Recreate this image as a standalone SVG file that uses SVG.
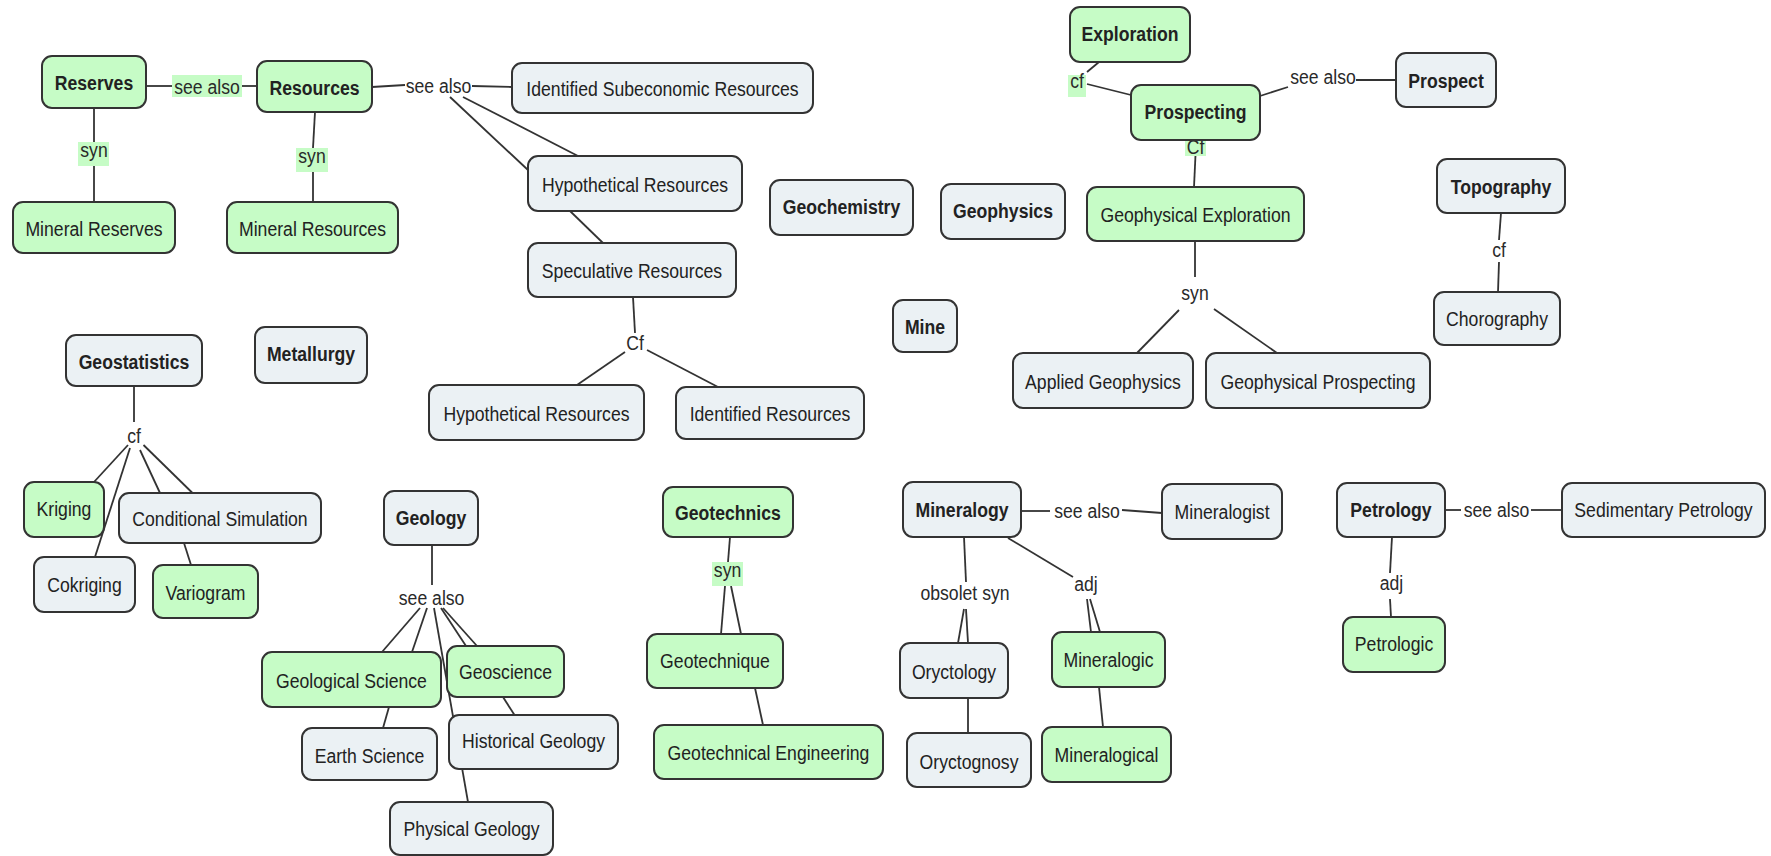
<svg xmlns="http://www.w3.org/2000/svg" width="1771" height="856" viewBox="0 0 1771 856">
  <style>
    .n rect { stroke: #333; stroke-width: 2; }
    .g rect { fill: #c6fcc6; }
    .b rect { fill: #ebf1f4; }
    text { font-family: "Liberation Sans", Arial, sans-serif; font-size: 21px; fill: #222; text-anchor: middle;
           transform-box: fill-box; transform-origin: center; transform: scaleX(0.84); }
    .bold text, text.bold { font-weight: bold; }
    .lab text { fill: #2a2a2a; }
    .lbg { fill: #c6fcc6; }
    #connectors line { stroke: #333; stroke-width: 1.8; }
  </style>

  <!-- connectors -->
  <g id="connectors">
    <line x1="146" y1="86" x2="172" y2="86"/>
    <line x1="242" y1="86" x2="257" y2="86"/>
    <line x1="94" y1="108" x2="94" y2="142"/>
    <line x1="94" y1="166" x2="94" y2="202"/>
    <line x1="315" y1="112" x2="313" y2="148"/>
    <line x1="313" y1="172" x2="313" y2="202"/>
    <line x1="372" y1="87" x2="405" y2="85"/>
    <line x1="472" y1="86" x2="512" y2="87"/>
    <line x1="450" y1="97" x2="528" y2="170"/>
    <line x1="463" y1="97" x2="578" y2="156"/>
    <line x1="570" y1="211" x2="603" y2="243"/>
    <line x1="633" y1="297" x2="635" y2="333"/>
    <line x1="625" y1="352" x2="577" y2="385"/>
    <line x1="647" y1="350" x2="718" y2="387"/>
    <line x1="1099" y1="62" x2="1087" y2="72"/>
    <line x1="1087" y1="84" x2="1131" y2="95"/>
    <line x1="1260" y1="96" x2="1288" y2="87"/>
    <line x1="1356" y1="80" x2="1396" y2="80"/>
    <line x1="1195.5" y1="155" x2="1194" y2="187"/>
    <line x1="1195" y1="241" x2="1195" y2="277"/>
    <line x1="1179" y1="310" x2="1137" y2="353"/>
    <line x1="1214" y1="309" x2="1277" y2="353"/>
    <line x1="1501" y1="213" x2="1499" y2="240"/>
    <line x1="1499" y1="262" x2="1498" y2="292"/>
    <line x1="134" y1="386" x2="134" y2="422"/>
    <line x1="128" y1="445" x2="94" y2="482"/>
    <line x1="130" y1="448" x2="95" y2="557"/>
    <line x1="140" y1="450" x2="160" y2="493"/>
    <line x1="143.5" y1="445" x2="192.5" y2="493"/>
    <line x1="184" y1="543" x2="191" y2="565"/>
    <line x1="432" y1="545" x2="432" y2="585"/>
    <line x1="420" y1="608" x2="382" y2="652"/>
    <line x1="427" y1="608" x2="412" y2="652"/>
    <line x1="434" y1="608" x2="468" y2="802"/>
    <line x1="441" y1="608" x2="466" y2="646"/>
    <line x1="443" y1="608" x2="477" y2="646"/>
    <line x1="389" y1="707" x2="383" y2="728"/>
    <line x1="503" y1="697" x2="514.5" y2="715"/>
    <line x1="730" y1="537" x2="728" y2="562"/>
    <line x1="725" y1="586" x2="721" y2="634"/>
    <line x1="731" y1="586" x2="741" y2="634"/>
    <line x1="755" y1="688" x2="763" y2="725"/>
    <line x1="1021" y1="511" x2="1050" y2="511"/>
    <line x1="1122" y1="510" x2="1162" y2="513"/>
    <line x1="964" y1="537" x2="966" y2="582"/>
    <line x1="964" y1="609" x2="958" y2="643"/>
    <line x1="966" y1="609" x2="968" y2="643"/>
    <line x1="968" y1="698" x2="968" y2="733"/>
    <line x1="1008" y1="538" x2="1073" y2="577"/>
    <line x1="1087" y1="599" x2="1091" y2="632"/>
    <line x1="1090" y1="599" x2="1100" y2="632"/>
    <line x1="1099" y1="687" x2="1103" y2="727"/>
    <line x1="1445" y1="510" x2="1461" y2="510"/>
    <line x1="1531" y1="510" x2="1562" y2="510"/>
    <line x1="1392" y1="537" x2="1390" y2="573"/>
    <line x1="1390" y1="599" x2="1391" y2="617"/>
  </g>

  <!-- link labels -->
  <g id="labels" class="lab">
    <rect class="lbg" x="172" y="75" width="70" height="22"/>
    <text x="207" y="94">see also</text>
    <rect class="lbg" x="78" y="142" width="31" height="24"/>
    <text x="94" y="157">syn</text>
    <rect class="lbg" x="296" y="148" width="32" height="24"/>
    <text x="312" y="163">syn</text>
    <text x="438.5" y="93">see also</text>
    <text x="635" y="350">Cf</text>
    <rect class="lbg" x="1068" y="75" width="18" height="22"/>
    <text x="1077" y="88">cf</text>
    <text x="1323" y="84">see also</text>
    <rect class="lbg" x="1185" y="137" width="21" height="19"/>
    <text x="1195.5" y="154">Cf</text>
    <text x="1195" y="300">syn</text>
    <text x="1499" y="257">cf</text>
    <text x="134" y="443">cf</text>
    <text x="431.6" y="605">see also</text>
    <rect class="lbg" x="712" y="562" width="31" height="24"/>
    <text x="727.6" y="577">syn</text>
    <text x="1087" y="518">see also</text>
    <text x="965" y="600">obsolet syn</text>
    <text x="1086" y="591">adj</text>
    <text x="1496.5" y="517">see also</text>
    <text x="1391.4" y="590">adj</text>
  </g>

  <!-- concepts -->
  <g id="reserves" class="n g bold"><rect x="42" y="56" width="104" height="52" rx="10"/><text x="94" y="90.5">Reserves</text></g>
  <g id="resources" class="n g bold"><rect x="257" y="61" width="115" height="51" rx="10"/><text x="314.5" y="95">Resources</text></g>
  <g id="mineral-reserves" class="n g"><rect x="13" y="202" width="162" height="51" rx="10"/><text x="94" y="236.5">Mineral Reserves</text></g>
  <g id="mineral-resources" class="n g"><rect x="227" y="202" width="171" height="51" rx="10"/><text x="312.5" y="236.5">Mineral Resources</text></g>
  <g id="identified-subeconomic" class="n b"><rect x="512" y="63" width="301" height="50" rx="10"/><text x="662.5" y="96.5">Identified Subeconomic Resources</text></g>
  <g id="hypothetical-1" class="n b"><rect x="528" y="156" width="214" height="55" rx="10"/><text x="635" y="192">Hypothetical Resources</text></g>
  <g id="speculative" class="n b"><rect x="528" y="243" width="208" height="54" rx="10"/><text x="632" y="278.5">Speculative Resources</text></g>
  <g id="hypothetical-2" class="n b"><rect x="429" y="385" width="215" height="55" rx="10"/><text x="536.5" y="421">Hypothetical Resources</text></g>
  <g id="identified" class="n b"><rect x="676" y="387" width="188" height="52" rx="10"/><text x="770" y="421.5">Identified Resources</text></g>
  <g id="geochemistry" class="n b bold"><rect x="770" y="180" width="143" height="55" rx="10"/><text x="841.5" y="214.5">Geochemistry</text></g>
  <g id="geophysics" class="n b bold"><rect x="941" y="184" width="124" height="55" rx="10"/><text x="1003" y="218.5">Geophysics</text></g>
  <g id="mine" class="n b bold"><rect x="893" y="300" width="64" height="52" rx="10"/><text x="925" y="334.5">Mine</text></g>
  <g id="exploration" class="n g bold"><rect x="1070" y="7" width="120" height="55" rx="10"/><text x="1130" y="41">Exploration</text></g>
  <g id="prospecting" class="n g bold"><rect x="1131" y="85" width="129" height="55" rx="10"/><text x="1195.5" y="119">Prospecting</text></g>
  <g id="prospect" class="n b bold"><rect x="1396" y="53" width="100" height="54" rx="10"/><text x="1446" y="88">Prospect</text></g>
  <g id="geophysical-exploration" class="n g"><rect x="1087" y="187" width="217" height="54" rx="10"/><text x="1195.5" y="222">Geophysical Exploration</text></g>
  <g id="applied-geophysics" class="n b"><rect x="1013" y="353" width="180" height="55" rx="10"/><text x="1103" y="389">Applied Geophysics</text></g>
  <g id="geophysical-prospecting" class="n b"><rect x="1206" y="353" width="224" height="55" rx="10"/><text x="1318" y="389">Geophysical Prospecting</text></g>
  <g id="topography" class="n b bold"><rect x="1437" y="159" width="128" height="54" rx="10"/><text x="1501" y="194">Topography</text></g>
  <g id="chorography" class="n b"><rect x="1434" y="292" width="126" height="53" rx="10"/><text x="1497" y="326.5">Chorography</text></g>
  <g id="geostatistics" class="n b bold"><rect x="66" y="335" width="136" height="51" rx="10"/><text x="134" y="369">Geostatistics</text></g>
  <g id="metallurgy" class="n b bold"><rect x="255" y="327" width="112" height="56" rx="10"/><text x="311" y="361">Metallurgy</text></g>
  <g id="kriging" class="n g"><rect x="24" y="482" width="80" height="55" rx="10"/><text x="64" y="516">Kriging</text></g>
  <g id="conditional-simulation" class="n b"><rect x="119" y="493" width="202" height="50" rx="10"/><text x="220" y="526.5">Conditional Simulation</text></g>
  <g id="cokriging" class="n b"><rect x="34" y="557" width="101" height="55" rx="10"/><text x="84.5" y="592">Cokriging</text></g>
  <g id="variogram" class="n g"><rect x="153" y="565" width="105" height="53" rx="10"/><text x="205.5" y="600">Variogram</text></g>
  <g id="geology" class="n b bold"><rect x="384" y="491" width="94" height="54" rx="10"/><text x="431" y="525">Geology</text></g>
  <g id="geological-science" class="n g"><rect x="262" y="652" width="179" height="55" rx="10"/><text x="351.5" y="688">Geological Science</text></g>
  <g id="geoscience" class="n g"><rect x="447" y="646" width="117" height="51" rx="10"/><text x="505.5" y="679">Geoscience</text></g>
  <g id="earth-science" class="n b"><rect x="302" y="728" width="135" height="52" rx="10"/><text x="369.5" y="763">Earth Science</text></g>
  <g id="historical-geology" class="n b"><rect x="449" y="715" width="169" height="54" rx="10"/><text x="533.5" y="748">Historical Geology</text></g>
  <g id="physical-geology" class="n b"><rect x="390" y="802" width="163" height="53" rx="10"/><text x="471.5" y="836">Physical Geology</text></g>
  <g id="geotechnics" class="n g bold"><rect x="663" y="487" width="130" height="50" rx="10"/><text x="728" y="520">Geotechnics</text></g>
  <g id="geotechnique" class="n g"><rect x="647" y="634" width="136" height="54" rx="10"/><text x="715" y="668">Geotechnique</text></g>
  <g id="geotechnical-engineering" class="n g"><rect x="654" y="725" width="229" height="54" rx="10"/><text x="768.5" y="760">Geotechnical Engineering</text></g>
  <g id="mineralogy" class="n b bold"><rect x="903" y="482" width="118" height="55" rx="10"/><text x="962" y="517">Mineralogy</text></g>
  <g id="mineralogist" class="n b"><rect x="1162" y="484" width="120" height="55" rx="10"/><text x="1222" y="519">Mineralogist</text></g>
  <g id="oryctology" class="n b"><rect x="900" y="643" width="108" height="55" rx="10"/><text x="954" y="679">Oryctology</text></g>
  <g id="oryctognosy" class="n b"><rect x="907" y="733" width="124" height="54" rx="10"/><text x="969" y="769">Oryctognosy</text></g>
  <g id="mineralogic" class="n g"><rect x="1052" y="632" width="113" height="55" rx="10"/><text x="1108.5" y="667">Mineralogic</text></g>
  <g id="mineralogical" class="n g"><rect x="1042" y="727" width="129" height="55" rx="10"/><text x="1106.5" y="762">Mineralogical</text></g>
  <g id="petrology" class="n b bold"><rect x="1337" y="483" width="108" height="54" rx="10"/><text x="1391" y="517">Petrology</text></g>
  <g id="sedimentary-petrology" class="n b"><rect x="1562" y="483" width="203" height="54" rx="10"/><text x="1663.5" y="517">Sedimentary Petrology</text></g>
  <g id="petrologic" class="n g"><rect x="1343" y="617" width="102" height="55" rx="10"/><text x="1394" y="651">Petrologic</text></g>
</svg>
